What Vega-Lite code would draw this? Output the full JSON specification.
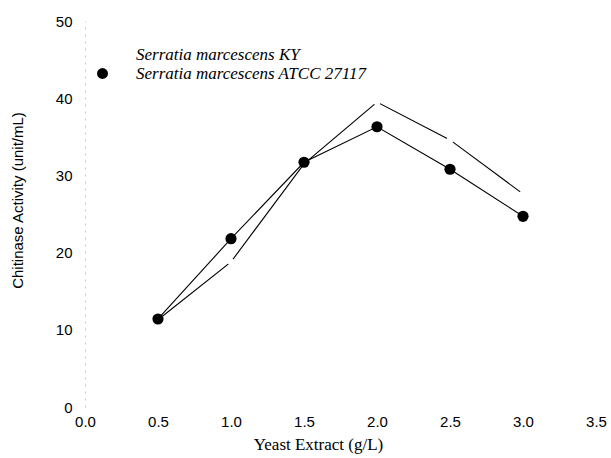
{
  "$schema": "https://vega.github.io/schema/vega-lite/v6.json",
  "autosize": "none",
  "width": 511,
  "height": 386,
  "padding": {"left": 85, "top": 21, "right": 15, "bottom": 51},
  "background": "white",
  "config": {"view": {"stroke": null}},
  "data": {
    "values": [
      {"extract": 0.5, "activity": 11.3, "strain": "Serratia marcescens KY"},
      {"extract": 1.0, "activity": 18.8, "strain": "Serratia marcescens KY"},
      {"extract": 1.5, "activity": 31.5, "strain": "Serratia marcescens KY"},
      {"extract": 2.0, "activity": 39.5, "strain": "Serratia marcescens KY"},
      {"extract": 2.5, "activity": 34.6, "strain": "Serratia marcescens KY"},
      {"extract": 3.0, "activity": 27.6, "strain": "Serratia marcescens KY"},
      {"extract": 0.5, "activity": 11.4, "strain": "Serratia marcescens ATCC 27117"},
      {"extract": 1.0, "activity": 21.8, "strain": "Serratia marcescens ATCC 27117"},
      {"extract": 1.5, "activity": 31.7, "strain": "Serratia marcescens ATCC 27117"},
      {"extract": 2.0, "activity": 36.3, "strain": "Serratia marcescens ATCC 27117"},
      {"extract": 2.5, "activity": 30.8, "strain": "Serratia marcescens ATCC 27117"},
      {"extract": 3.0, "activity": 24.7, "strain": "Serratia marcescens ATCC 27117"}
    ]
  },
  "encoding": {
    "x": {
      "field": "extract",
      "type": "quantitative",
      "scale": {"domain": [0, 3.5], "nice": false, "zero": false},
      "axis": {
        "title": "Yeast Extract  (g/L)",
        "values": [0, 0.5, 1, 1.5, 2, 2.5, 3, 3.5],
        "format": ".1f",
        "domain": false,
        "ticks": false,
        "grid": false,
        "labelFont": "Liberation Sans",
        "labelFontSize": 15,
        "labelColor": "black",
        "labelPadding": 7,
        "labelFlush": false,
        "titleFont": "Liberation Serif",
        "titleFontSize": 17,
        "titleFontWeight": "normal",
        "titleColor": "black",
        "titleX": 233,
        "titleY": 37,
        "titleBaseline": "middle",
        "titleAlign": "center"
      }
    },
    "y": {
      "field": "activity",
      "type": "quantitative",
      "scale": {"domain": [0, 50], "nice": false},
      "axis": {
        "title": "Chitinase Activity (unit/mL)",
        "values": [0, 10, 20, 30, 40, 50],
        "domain": true,
        "domainColor": "#c8c8c8",
        "domainDash": [2, 5],
        "domainWidth": 1,
        "ticks": false,
        "grid": false,
        "labelFont": "Liberation Sans",
        "labelFontSize": 15,
        "labelColor": "black",
        "labelPadding": 13,
        "labelFlush": false,
        "titleFont": "Liberation Sans",
        "titleFontSize": 15,
        "titleFontWeight": "normal",
        "titleColor": "black",
        "titleAngle": -90,
        "titleX": -68,
        "titleY": 179,
        "titleBaseline": "middle",
        "titleAlign": "center"
      }
    }
  },
  "layer": [
    {
      "mark": {"type": "line", "color": "black", "strokeWidth": 1.1},
      "encoding": {"detail": {"field": "strain", "type": "nominal"}}
    },
    {
      "mark": {"type": "point", "shape": "circle", "filled": true, "opacity": 1, "strokeWidth": 0},
      "encoding": {
        "fill": {
          "field": "strain",
          "type": "nominal",
          "scale": {"domain": ["Serratia marcescens KY", "Serratia marcescens ATCC 27117"], "range": ["white", "black"]},
          "legend": {
            "title": null,
            "orient": "none",
            "legendX": 9,
            "legendY": 25,
            "padding": 0,
            "symbolType": "circle",
            "symbolSize": 120,
            "symbolStrokeWidth": 0,
            "symbolOpacity": 1,
            "labelFont": "Liberation Serif",
            "labelFontStyle": "italic",
            "labelFontSize": 17,
            "labelColor": "black",
            "labelOffset": 25,
            "rowPadding": 1,
            "labelLimit": 400
          }
        },
        "size": {
          "condition": {"test": "datum.strain === 'Serratia marcescens KY'", "value": 45},
          "value": 125
        }
      }
    }
  ]
}
